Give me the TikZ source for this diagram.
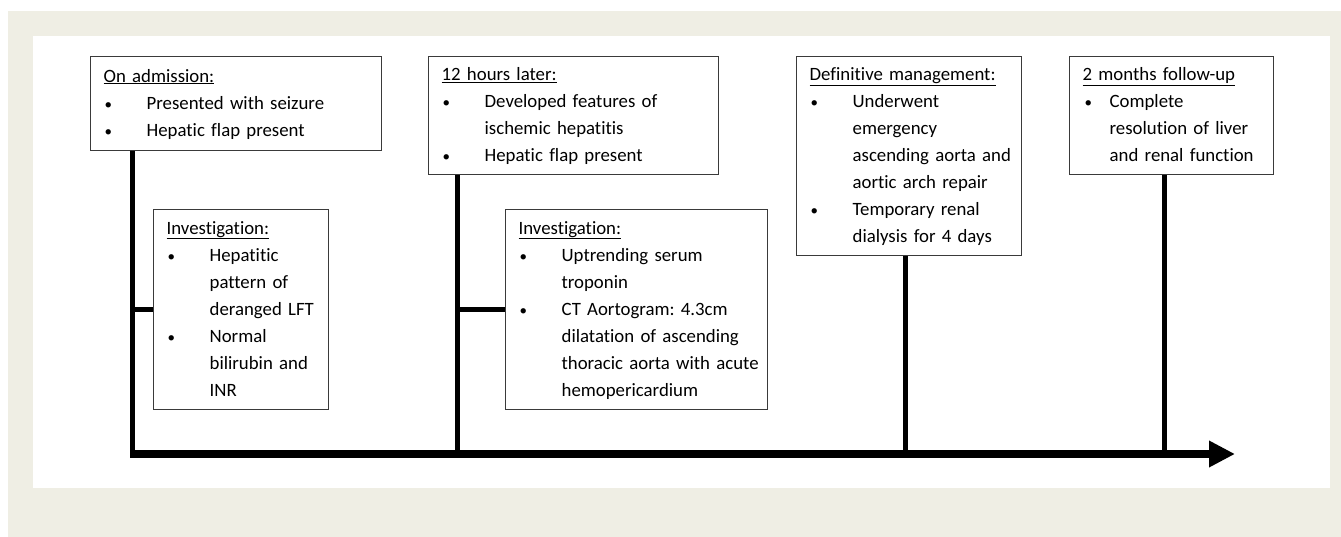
\documentclass[tikz,border=0pt]{standalone}
\usepackage{fontspec}
\setmainfont{Carlito}[Ligatures=NoCommon]
\usetikzlibrary{arrows.meta,calc}
\definecolor{bgbeige}{HTML}{EFEEE4}
\definecolor{boxline}{HTML}{3A3A3A}
\frenchspacing
\newcommand{\sstrut}{\rule[-8.1pt]{0pt}{27pt}}
\newcommand{\smbul}{{\fontsize{15}{15}\selectfont\textbullet}}
\newcommand{\ttl}[1]{\mbox{\sstrut\underline{#1}}}
\newcommand{\bul}[1]{\mbox{\sstrut\makebox[43pt][l]{\hspace{1pt}\smbul}#1}}
\newcommand{\cnt}[1]{\mbox{\sstrut\makebox[43pt][l]{}#1}}
\newcommand{\bulb}[1]{\mbox{\sstrut\makebox[27pt][l]{\hspace{2pt}\smbul}#1}}
\newcommand{\cntb}[1]{\mbox{\sstrut\makebox[27pt][l]{}#1}}
\tikzset{
  evbox/.style={draw=boxline, line width=1.3pt, fill=white, anchor=north west,
    inner xsep=13pt, inner ysep=0pt, align=left,
    font=\frenchspacing\fontsize{18.8}{27}\selectfont},
  vline/.style={line width=5pt, black},
  tline/.style={line width=7.5pt, black, -{Triangle[length=26pt,width=25pt]}}
}
\begin{document}
\begin{tikzpicture}[x=1pt,y=-1pt]
\useasboundingbox (0,0) rectangle (1341,537);
\fill[white] (0,0) rectangle (1341,537);
\fill[bgbeige] (8,11) rectangle (1341,537);
\fill[white] (33,36) rectangle (1330,488);

% timeline coordinates
\coordinate (tl0) at (130,454);
\coordinate (tl1) at (1235,454);
\coordinate (f1) at (132,454);
\coordinate (f2) at (457,454);
\coordinate (f3) at (905,454);
\coordinate (f4) at (1164,454);

% boxes
\node[evbox, text width=265pt, minimum height=94pt] (b1) at (90,56)
  {\ttl{On admission:}\\\bul{Presented with seizure}\\\bul{Hepatic flap present}};
\node[evbox, text width=149pt, minimum height=200pt] (i1) at (153,209)
  {\ttl{Investigation:}\\\bul{Hepatitic}\\\cnt{pattern of}\\\cnt{deranged LFT}\\\bul{Normal}\\\cnt{bilirubin and}\\\cnt{INR}};
\node[evbox, text width=264pt, minimum height=118pt] (b2) at (428,56)
  {\ttl{12 hours later:}\\\bul{Developed features of}\\\cnt{ischemic hepatitis}\\\bul{Hepatic flap present}};
\node[evbox, text width=236pt, minimum height=200pt] (i2) at (505,209)
  {\ttl{Investigation:}\\\bul{Uptrending serum}\\\cnt{troponin}\\\bul{CT Aortogram: 4.3cm}\\\cnt{dilatation of ascending}\\\cnt{thoracic aorta with acute}\\\cnt{hemopericardium}};
\node[evbox, text width=199pt, minimum height=199pt] (b3) at (796,56)
  {\ttl{Definitive management:}\\\bul{Underwent}\\\cnt{emergency}\\\cnt{ascending aorta and}\\\cnt{aortic arch repair}\\\bul{Temporary renal}\\\cnt{dialysis for 4 days}};
\node[evbox, text width=178pt, minimum height=118pt] (b4) at (1069,56)
  {\ttl{2 months follow-up}\\\bulb{Complete}\\\cntb{resolution of liver}\\\cntb{and renal function}};

% connectors
\draw[vline] (b1.south -| f1) -- (f1);
\draw[vline] (b2.south -| f2) -- (f2);
\draw[vline] (b3.south -| f3) -- (f3);
\draw[vline] (b4.south -| f4) -- (f4);
\draw[vline] (i1.west -| f1) -- (i1.west);
\draw[vline] (i2.west -| f2) -- (i2.west);
\draw[tline] (tl0) -- (tl1);
\end{tikzpicture}
\end{document}
